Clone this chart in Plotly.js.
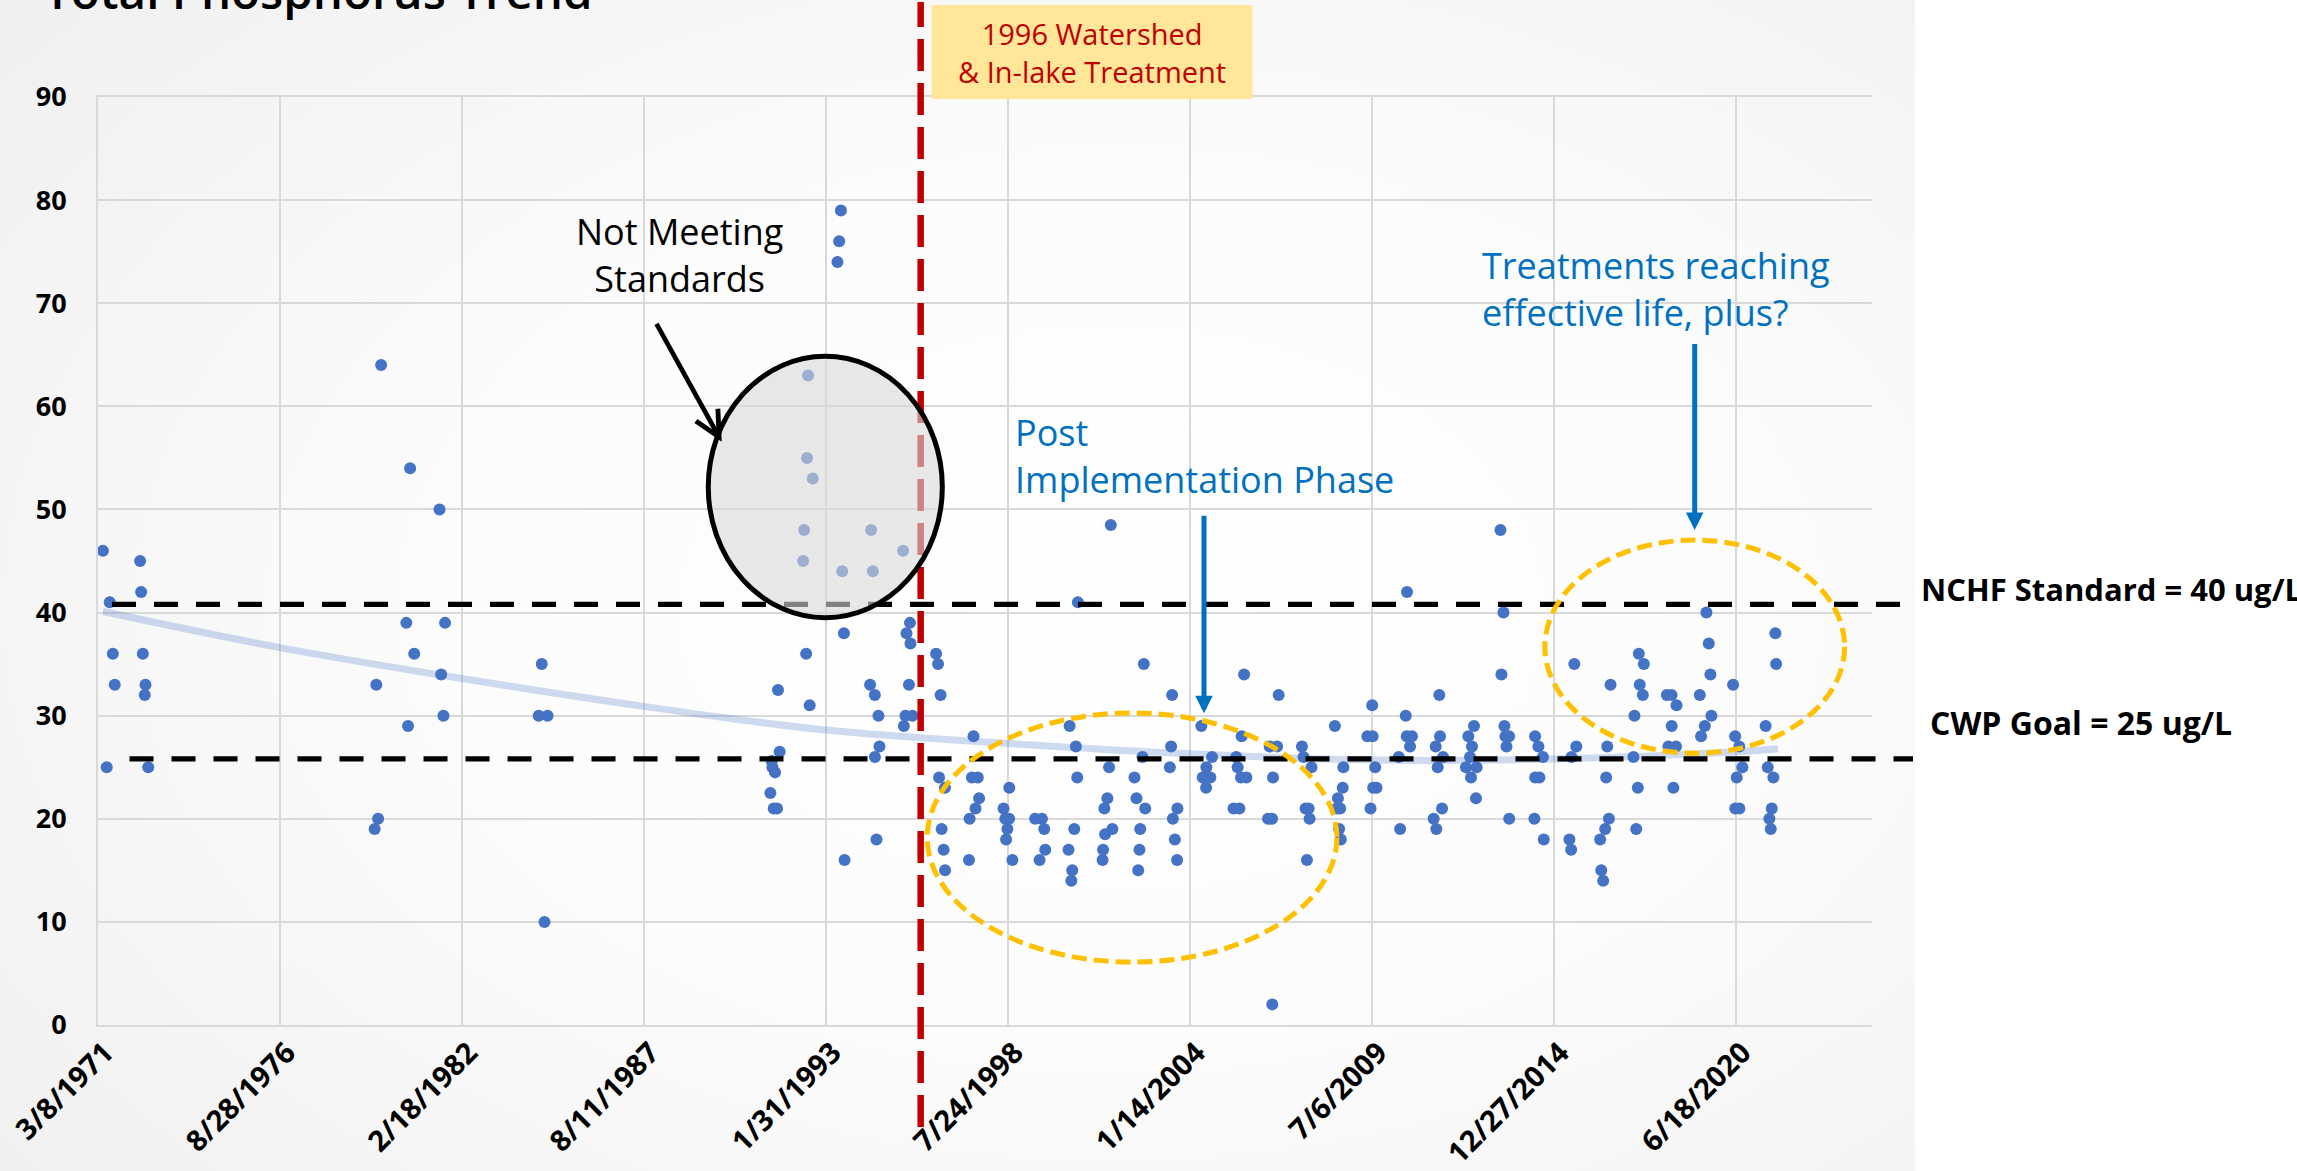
<!DOCTYPE html>
<html>
<head>
<meta charset="utf-8">
<script src="https://cdn.plot.ly/plotly-3.0.1.min.js"></script>
<style>
html,body{margin:0;padding:0;background:#fff;}
#wrap{position:relative;width:2297px;height:1171px;overflow:hidden;background:#fff;}
#bg{position:absolute;left:0;top:0;width:1915px;height:1171px;
  background:radial-gradient(ellipse 75% 80% at 58% 52%, #ffffff 0%, #fcfcfc 45%, #f0f0f0 100%);}
#chart{position:absolute;left:0;top:0;width:2297px;height:1171px;}
</style>
</head>
<body>
<div id="wrap"><div id="bg"></div><div id="chart"></div></div>
<script>
// ---------------- DATA ----------------
const sampleDates = [
'1971-05-01','1971-06-12','1971-07-15','1971-08-18','1971-09-08',
'1972-06-13','1972-06-24','1972-07-13','1972-08-03','1972-08-11','1972-09-10',
'1979-07-05','1979-07-23','1979-08-12','1979-09-14',
'1980-06-17','1980-07-06','1980-07-29','1980-09-12',
'1981-06-17','1981-07-05','1981-07-30','1981-08-17',
'1984-06-11','1984-07-15','1984-08-14','1984-09-17',
'1991-06-02','1991-06-16','1991-06-24','1991-07-08','1991-07-23','1991-08-14','1991-08-25','1991-09-12',
'1992-05-27','1992-06-07','1992-06-29','1992-07-09','1992-07-20','1992-08-07','1992-09-09',
'1993-06-08','1993-06-27','1993-07-16','1993-07-30','1993-08-18','1993-08-25',
'1994-06-02','1994-06-13','1994-07-02','1994-07-24','1994-07-25','1994-08-11','1994-09-02','1994-09-13',
'1995-05-31','1995-06-08','1995-06-26','1995-07-07','1995-08-03','1995-08-14','1995-08-20','1995-09-11',
'1996-05-27','1996-06-18','1996-06-29','1996-07-16','1996-07-27','1996-08-18','1996-09-02','1996-09-03',
'1997-05-24','1997-05-31','1997-06-25','1997-07-13','1997-08-04','1997-08-29','1997-09-12',
'1998-06-08','1998-06-27','1998-07-06','1998-07-20','1998-08-08','1998-08-10','1998-09-13',
'1999-05-21','1999-07-09','1999-08-04','1999-08-29','1999-09-09',
'2000-05-22','2000-06-03','2000-06-22','2000-07-02','2000-07-24','2000-08-11','2000-08-26','2000-09-02',
'2001-05-31','2001-06-06','2001-06-20','2001-06-28','2001-07-23','2001-08-11','2001-08-30','2001-09-16',
'2002-05-17','2002-06-08','2002-06-27','2002-07-11','2002-07-19','2002-08-13','2002-08-28','2002-09-12',
'2003-06-10','2003-06-24','2003-07-05','2003-07-13','2003-08-04','2003-08-29','2003-09-01',
'2004-05-21','2004-06-05','2004-07-12','2004-07-15','2004-08-28','2004-09-16',
'2005-05-10','2005-06-09','2005-06-24','2005-07-13','2005-07-31','2005-08-07','2005-09-03','2005-09-28',
'2006-05-24','2006-06-11','2006-07-07','2006-07-10','2006-07-18','2006-09-01','2006-09-18',
'2007-06-01','2007-06-19','2007-07-11','2007-07-26','2007-08-13','2007-08-24','2007-09-14',
'2008-05-28','2008-06-19','2008-06-30','2008-07-14','2008-07-25','2008-08-01','2008-08-22','2008-08-29',
'2009-05-20','2009-06-24','2009-07-12','2009-07-17','2009-07-23','2009-08-14','2009-08-29',
'2010-04-30','2010-05-15','2010-07-16','2010-07-27','2010-07-30','2010-09-01','2010-09-22',
'2011-05-19','2011-06-10','2011-06-17','2011-07-02','2011-07-20','2011-07-28','2011-08-19','2011-08-30',
'2012-05-08','2012-06-03','2012-06-21','2012-07-02','2012-07-13','2012-08-04','2012-08-26','2012-09-02',
'2013-05-22','2013-06-02','2013-06-24','2013-07-05','2013-07-16','2013-07-27','2013-08-25','2013-08-26',
'2014-05-30','2014-06-07','2014-06-08','2014-07-13','2014-07-24','2014-09-01','2014-09-10',
'2015-06-19','2015-07-08','2015-07-12','2015-08-12','2015-09-03',
'2016-05-22','2016-06-03','2016-06-24','2016-07-16','2016-07-27','2016-08-08','2016-08-26','2016-09-13',
'2017-05-23','2017-06-03','2017-06-22','2017-07-10','2017-07-21','2017-07-31','2017-09-03','2017-09-14',
'2018-05-25','2018-06-11','2018-07-16','2018-07-17','2018-08-05','2018-09-02','2018-09-08',
'2019-05-22','2019-06-05','2019-07-16','2019-08-03','2019-08-29','2019-09-16','2019-09-27',
'2020-05-22','2020-06-14','2020-06-15','2020-07-01','2020-07-29','2020-07-30','2020-09-01',
'2021-05-15','2021-06-07','2021-06-25','2021-07-10','2021-07-21','2021-08-08','2021-08-30','2021-09-07'
];
const tpValues = [
46,25,41,36,33,
45,42,36,32,33,25,
19,33,20,64,
39,29,54,36,
50,34,30,39,
30,35,10,30,
22.5,25.6,25,21,24.5,21,32.5,26.5,
45,48,36,55,63,31,53,
74,76,79,44,38,16,
33,48,44,32,26,18,30,27,
46,29,30,38,33,39,37,30,
36,35,24,32,19,17,23,15,
16,20,24,28,21,24,22,
21,20,18,19,20,23,16,
20,16,20,19,17,
17,29,14,15,19,27,24,41,
16,17,21,18.5,22,25,48.5,19,
24,22,15,17,19,26,35,21,
25,27,32,20,18,16,21,
29,24,23,25,24,26,
21,26,25,21,24,28,34,24,
20,27,20,2,24,27,32,
27,26,21,16,21,20,25,
29,21,22,19,21,18,23,25,
28,21,31,28,23,25,23,
26,19,30,28,42,27,28,
20,27,19,25,32,28,21,26,
25,28,26,24,27,29,22,25,
48,34,40,29,28,27,28,20,
20,28,24,27,24,26,18,
18,17,26,35,27,
18,15,14,19,24,27,20,33,
26,30,19,23,36,33,32,35,
32,27,32,29,23,27,31,
32,28,29,40,37,34,30,
33,28,21,24,27,21,25,
29,25,20,19,21,24,38,35
];
// trend line
const trendDates  = ['1971-05-01','1976-08-28','1982-02-18','1987-08-11','1993-01-31','1998-07-24','2004-01-14','2009-07-06','2014-12-27','2020-06-18','2021-09-27'];
const trendValues = [40.1, 36.6, 33.6, 30.9, 28.6, 27.3, 26.3, 25.7, 25.8, 26.5, 26.8];
// axes
const tickDates  = ['1971-03-08','1976-08-28','1982-02-18','1987-08-11','1993-01-31','1998-07-24','2004-01-14','2009-07-06','2014-12-27','2020-06-18'];
const tickLabels = ['3/8/1971','8/28/1976','2/18/1982','8/11/1987','1/31/1993','7/24/1998','1/14/2004','7/6/2009','12/27/2014','6/18/2020'];
const xRange = ['1971-03-08','2024-07-27'];
const yTicks = [0,10,20,30,40,50,60,70,80,90];
// reference levels (as drawn) and the treatment date
const standardLevel = 40.8;
const goalLevel = 25.8;
const treatmentDate = '1995-12-10';

// ---------------- LAYOUT HELPERS (page pixels -> paper) ----------------
const L=98, R=1872, T=97, B=1025;
const px = X => (X-L)/(R-L);
const py = Y => (B-Y)/(B-T);
const FONT = 'Open Sans, Segoe UI, sans-serif';

const traces = [
  {x: trendDates, y: trendValues, type:'scatter', mode:'lines',
   line:{color:'rgba(68,114,196,0.26)', width:7, shape:'spline', smoothing:1}, hoverinfo:'skip'},
  {x: sampleDates, y: tpValues, type:'scatter', mode:'markers',
   marker:{color:'#4472c4', size:12, line:{width:0}}, hoverinfo:'x+y'}
];

const shapes = [
  {type:'line', xref:'paper', yref:'y', x0:px(129.5), x1:px(1913), y0:goalLevel, y1:goalLevel,
   line:{color:'#000', width:5.3, dash:'24px,18px'}, layer:'above'},
  {type:'line', xref:'paper', yref:'y', x0:px(112), x1:px(1902), y0:standardLevel, y1:standardLevel,
   line:{color:'#000', width:5.3, dash:'24px,18px'}, layer:'above'},
  {type:'line', xref:'x', yref:'paper', x0:treatmentDate, x1:treatmentDate, y0:py(1127), y1:py(2),
   line:{color:'#c00000', width:6.5, dash:'32px,12px'}, layer:'above'},
  {type:'circle', xref:'x', yref:'y', x0:'1989-07-19', x1:'1996-08-04', y0:39.5, y1:64.85,
   fillcolor:'rgba(217,217,217,0.6)', line:{color:'#000', width:5}, layer:'above'},
  {type:'circle', xref:'x', yref:'y', x0:'1996-02-20', x1:'2008-06-19', y0:6.1, y1:30.26,
   fillcolor:'rgba(0,0,0,0)', line:{color:'#ffc000', width:5, dash:'15px,7px'}, layer:'above'},
  {type:'circle', xref:'x', yref:'y', x0:'2014-09-22', x1:'2023-09-30', y0:26.35, y1:47.03,
   fillcolor:'rgba(0,0,0,0)', line:{color:'#ffc000', width:5, dash:'15px,7px'}, layer:'above'},
  {type:'rect', xref:'paper', yref:'paper', x0:px(931.7), x1:px(1252.5), y0:py(99), y1:py(5),
   fillcolor:'#ffe699', line:{width:0}, layer:'above'}
];

const annotations = [
  {text:'Total Phosphorus Trend', xref:'paper', yref:'paper', x:px(43), y:py(24), xanchor:'left', yanchor:'bottom',
   showarrow:false, borderpad:0, font:{family:FONT, size:47.5, color:'#000', weight:600}},
  {text:'Not Meeting<br>Standards', xref:'paper', yref:'paper', x:px(679.6), y:py(206.5), xanchor:'center', yanchor:'top',
   align:'center', showarrow:false, borderpad:0, font:{family:FONT, size:36, color:'#000'}},
  {text:'Post<br>Implementation Phase', xref:'paper', yref:'paper', x:px(1014), y:py(406.5), xanchor:'left', yanchor:'top',
   align:'left', showarrow:false, borderpad:0, font:{family:FONT, size:36, color:'#0070c0'}},
  {text:'Treatments reaching<br>effective life, plus?', xref:'paper', yref:'paper', x:px(1481), y:py(240), xanchor:'left', yanchor:'top',
   align:'left', showarrow:false, borderpad:0, font:{family:FONT, size:36, color:'#0070c0'}},
  {text:'NCHF Standard = 40 ug/L', xref:'paper', yref:'paper', x:px(1920), y:py(566.5), xanchor:'left', yanchor:'top',
   align:'left', showarrow:false, borderpad:0, font:{family:FONT, size:31, color:'#000', weight:700}},
  {text:'CWP Goal = 25 ug/L', xref:'paper', yref:'paper', x:px(1928.5), y:py(700.4), xanchor:'left', yanchor:'top',
   align:'left', showarrow:false, borderpad:0, font:{family:FONT, size:32, color:'#000', weight:700}},
  {text:'1996 Watershed<br>&amp; In-lake Treatment', xref:'paper', yref:'paper', x:px(1092), y:py(12.7), xanchor:'center', yanchor:'top',
   align:'center', showarrow:false, borderpad:0, font:{family:FONT, size:29, color:'#c00000'}},
  {text:'', xref:'paper', yref:'paper', x:px(721.7), y:py(441.7), ax:-66, ay:-119.4, showarrow:true,
   arrowhead:5, arrowwidth:4.7, arrowsize:1.05, arrowcolor:'#000', standoff:0},
  {text:'', xref:'paper', yref:'paper', x:px(1204), y:py(713.3), ax:0, ay:-199, showarrow:true,
   arrowhead:2, arrowwidth:5, arrowsize:0.7, arrowcolor:'#0070c0', standoff:0},
  {text:'', xref:'paper', yref:'paper', x:px(1694.7), y:py(529.9), ax:0, ay:-187.5, showarrow:true,
   arrowhead:2, arrowwidth:5, arrowsize:0.7, arrowcolor:'#0070c0', standoff:0}
];

const layout = {
  width:2297, height:1171,
  margin:{l:L, r:2297-R, t:T, b:1171-B, pad:0},
  paper_bgcolor:'rgba(0,0,0,0)', plot_bgcolor:'rgba(0,0,0,0)',
  showlegend:false,
  xaxis:{type:'date', range:xRange, tickmode:'array', tickvals:tickDates, ticktext:tickLabels,
    tickangle:-45, tickfont:{family:FONT, size:29, color:'#000', weight:700}, ticklabeloverflow:'allow',
    ticklabelstandoff:-3, ticklabelshift:7,
    showgrid:true, gridcolor:'#d9d9d9', gridwidth:2, zeroline:false,
    showline:true, mirror:true, linecolor:'#d9d9d9', linewidth:2, ticks:'', automargin:false, fixedrange:true},
  yaxis:{range:[0,90], tickmode:'array', tickvals:yTicks,
    tickfont:{family:FONT, size:27, color:'#000', weight:700},
    showgrid:true, gridcolor:'#d9d9d9', gridwidth:2, zeroline:false,
    showline:true, linecolor:'#d9d9d9', linewidth:2, ticks:'', ticklabelstandoff:24, automargin:false, fixedrange:true},
  shapes:shapes,
  annotations:annotations
};

Plotly.newPlot('chart', traces, layout, {displayModeBar:false, responsive:false});
</script>
</body>
</html>
